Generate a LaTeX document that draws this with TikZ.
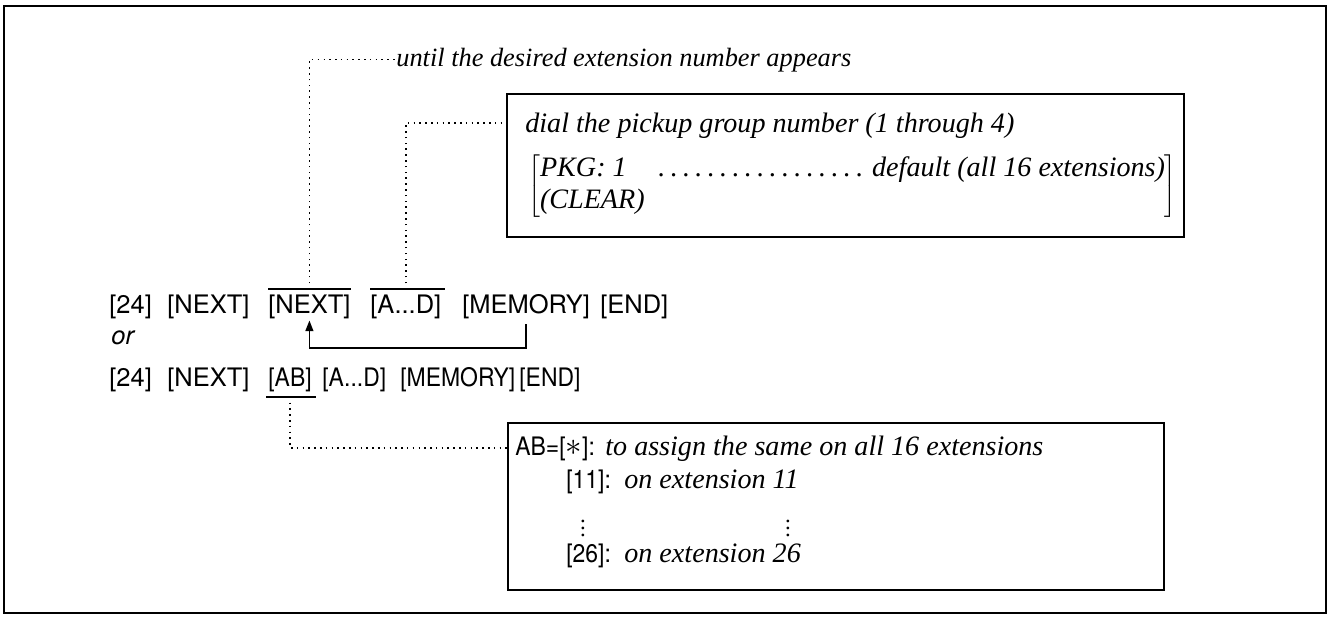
\documentclass[tikz,border=0pt]{standalone}
\usepackage{fontspec}
\setmainfont{Liberation Serif}
\setsansfont{TeX Gyre Heros}
\newfontfamily\keynarrow[FakeStretch=0.9]{TeX Gyre Heros}
\usetikzlibrary{arrows.meta, positioning, calc}
\tikzset{
  keytext/.style={font=\sffamily\fontsize{14.5}{17}\selectfont, inner sep=0pt, anchor=base west},
  keyslim/.style={font=\keynarrow\fontsize{14.5}{17}\selectfont, inner sep=0pt, anchor=base west},
  notetext/.style={font=\itshape\fontsize{16}{18}\selectfont, inner sep=0pt},
  outerframe/.style={draw=black, line width=1.1pt},
  notebox/.style={draw=black, line width=1.1pt, anchor=north west, inner sep=0pt},
  leader/.style={line width=0.9pt, dash pattern=on 0.9pt off 2.4pt},
  keybar/.style={line width=0.9pt},
  feedback/.style={line width=0.8pt, -{Triangle[length=6pt, width=4.5pt]}},
}

\begin{document}
\begin{tikzpicture}[x=0.02cm, y=-0.02cm]
  \useasboundingbox (0,0) rectangle (1330,616);
  \draw[outerframe] (4,6) rectangle (1326,613);

  % first key sequence
  \node[keytext] (ka) at (109,313) {[24]};
  \node[keytext] (kb) at (167,313) {[NEXT]};
  \node[keytext] (kc) at (268,313) {[NEXT]};
  \node[keytext] (kd) at (370,313) {[A...D]};
  \node[keytext] (ke) at (462,313) {[MEMORY]};
  \node[keytext] (kf) at (600,313) {[END]};
  \node[keytext, font=\sffamily\itshape\fontsize{14.5}{17}\selectfont] (ortxt) at (111,344) {or};

  % second key sequence
  \node[keytext] (la) at (109,386) {[24]};
  \node[keytext] (lb) at (167,386) {[NEXT]};
  \node[keyslim] (lc) at (268,386) {[AB]};
  \node[keyslim] (ld) at (322,386) {[A...D]};
  \node[keyslim] (le) at (400,386) {[MEMORY]};
  \node[keyslim] (lf) at (519,386) {[END]};

  % bars over and under keys
  \coordinate (kcbar) at ($(kc.north)+(0,-5)$);
  \coordinate (kdbar) at ($(kd.north)+(0,-5)$);
  \coordinate (lcbar) at ($(lc.south)+(0,5)$);
  \draw[keybar] ($(kc.north west)+(0,-5)$) -- ($(kc.north east)+(0,-5)$);
  \draw[keybar] ($(kd.north west)+(0,-5)$) -- ($(kd.north east)+(3,-5)$);
  \draw[keybar] ($(lc.south west)+(-2,5)$) -- ($(lc.south east)+(4,5)$);

  % repeat loop
  \coordinate (loop) at (0,348);
  \draw[feedback] ([yshift=-3pt]ke.south) -- (ke.south |- loop) -- (kc.south |- loop) -- ([yshift=-1pt]kc.south);

  % notes
  \node[notetext, font=\itshape\fontsize{15}{18}\selectfont, anchor=base west] (until) at (396,66) {until the desired extension number appears};
  \node[notebox, minimum width=13.54cm, minimum height=2.86cm] (pkgbox) at (506,93) {};
  \node[notetext, anchor=base west] (dial) at (525,132) {dial the pickup group number (1 through 4)};
  \node[notetext, anchor=west] (pkg) at (528,186) {$\left[\vcenter{\hbox{\begin{tabular}{@{}p{12.5cm}@{}}PKG:\ 1\hspace{0.55cm}\dotfill\,default (all 16 extensions)\\ (CLEAR)\end{tabular}}}\right]$};

  \node[notebox, minimum width=13.12cm, minimum height=3.34cm] (abbox) at (507,422) {};
  \node[keyslim] (abkey) at (515,455) {AB=[\scalebox{1.3}{$\ast$}]:};
  \node[notetext, anchor=base west] (abtxt) at (605,455) {to assign the same on all 16 extensions};
  \node[keyslim] (k11) at (566,488) {[11]:};
  \node[notetext, anchor=base west] (t11) at (624,488) {on extension 11};
  \node[notetext, font=\fontsize{13}{14}\selectfont] (dotsa) at (583,523) {$\vdots$};
  \node[notetext, font=\fontsize{13}{14}\selectfont] (dotsb) at (788,523) {$\vdots$};
  \node[keyslim] (k26) at (566,562) {[26]:};
  \node[notetext, anchor=base west] (t26) at (624,562) {on extension 26};

  % dotted leaders
  \coordinate (pkgin) at (506,123);
  \coordinate (abin) at (507,448);
  \draw[leader] (kcbar) |- (until.west);
  \draw[leader] (kdbar) |- (pkgin);
  \draw[leader] (lcbar) |- (abin);
\end{tikzpicture}
\end{document}
